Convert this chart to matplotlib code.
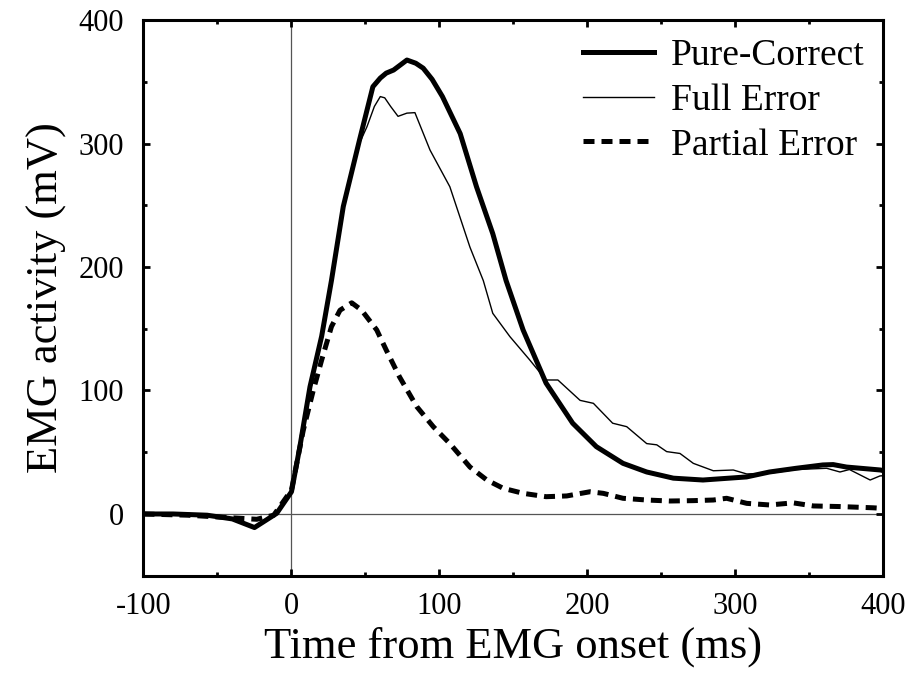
import matplotlib
matplotlib.use("Agg")
import matplotlib.pyplot as plt
from matplotlib.ticker import MultipleLocator

# Data
pc_t = [-100, -80, -57, -40, -25, -10, 0, 5.6, 12.5, 20.4, 27, 35, 46, 55, 60, 64, 69, 78, 84, 89,
        95, 102, 114, 125, 136, 145, 156.5, 172, 190, 206, 224, 240, 258, 278, 307.5, 323,
        341, 359, 366, 375, 398, 400]
pc_v = [0, 0, -1, -4, -11, 0.5, 18, 54, 103, 144, 189, 249, 303, 346, 353, 357, 359.5, 367.6, 365, 361,
        352, 338, 308, 265, 227, 189, 149, 106, 73.5, 54.5, 41, 34, 29, 27.5, 30, 34,
        37, 39.7, 40, 38, 35.6, 35]

fe_t = [-100, -80, -57, -40, -25, -10, 0, 5.6, 12.5, 20.4, 27, 35, 44, 51, 56, 60, 63, 67, 72, 78,
        83.4, 93.6, 107, 120.6, 129.6, 136, 147.6, 161, 172, 180, 195, 204, 217, 226.5,
        240, 246.8, 253.5, 262.5, 271.5, 285, 298.5, 307.6, 323, 341, 361.6, 370.6, 377,
        391, 397.6, 400]
fe_v = [0, 0, -1, -4, -11, 0.5, 18, 54, 103, 144, 189, 249, 295, 313.6, 330, 338, 337, 330, 322, 324.6,
        325, 294.7, 265, 216, 189, 162.5, 143.6, 124.7, 108.5, 108.5, 92, 89.6, 73.5, 70.7,
        57, 56, 50.5, 49, 41, 35, 35.6, 32.4, 33, 36, 37, 34, 36,
        27.5, 30.8, 31]

pe_t = [-100, -70, -46, -23.5, -12, 0, 8, 14.7, 20.4, 27, 32.8, 40.7, 47.4, 57.6, 64, 73,
        84.6, 95.8, 107, 120.6, 132, 143, 156.6, 172, 186, 201.7, 210.7, 224, 240, 255.7,
        271.5, 285, 294, 307.6, 323, 339, 352.6, 370.6, 393, 400]
pe_v = [0, -1, -2.7, -4.3, -1, 19.4, 68, 100, 124.7, 151.7, 165, 171, 165, 149, 132.8, 111,
        87, 70.7, 57, 38, 27.5, 20.8, 16.7, 14, 14.6, 18, 16.7, 12.7, 11.3, 10.5,
        10.8, 11.3, 12.7, 8.6, 7.3, 9, 6.5, 6, 5, 4.5]

labels = ["Pure-Correct", "Full Error", "Partial Error"]
x_ticks = [-100, 0, 100, 200, 300, 400]
x_tick_labels = ["-100", "0", "100", "200", "300", "400"]
y_ticks = [0, 100, 200, 300, 400]

plt.rcParams['font.family'] = ['Liberation Serif', 'DejaVu Serif']

fig = plt.figure(figsize=(9.11, 6.81), dpi=100)
ax = fig.add_axes([0.1575, 0.1546, 0.8123, 0.816])

ax.axvline(0, color='#555555', lw=0.9, zorder=1)
ax.axhline(0, color='#555555', lw=0.9, zorder=1)

ax.plot(pc_t, pc_v, color='black', lw=3.6, label=labels[0], zorder=3,
        solid_joinstyle='round')
ax.plot(fe_t, fe_v, color='black', lw=1.0, label=labels[1], zorder=4)
ax.plot(pe_t, pe_v, color='black', lw=3.6, ls=(0, (2.2, 1.4)), label=labels[2], zorder=2)

ax.set_xlim(-100, 400)
ax.set_ylim(-50, 400)
ax.set_xticks(x_ticks)
ax.set_xticklabels(x_tick_labels)
ax.set_yticks(y_ticks)
ax.xaxis.set_minor_locator(MultipleLocator(50))
ax.yaxis.set_minor_locator(MultipleLocator(50))
ax.tick_params(which='both', direction='in', top=True, right=True, labelsize=22, width=2)
ax.tick_params(which='major', length=5)
ax.tick_params(which='minor', length=3)
ax.tick_params(axis='x', pad=12)
ax.tick_params(axis='y', pad=14)
for s in ax.spines.values():
    s.set_linewidth(2.2)

ax.set_xlabel("Time from EMG onset (ms)", fontsize=32, labelpad=4)
ax.set_ylabel("EMG activity (mV)", fontsize=32, labelpad=8)

ax.legend(loc='upper right', frameon=False, fontsize=27, handlelength=1.9,
          handletextpad=0.45, labelspacing=0.27, borderaxespad=0.1)

fig.savefig("out.png", dpi=100)
